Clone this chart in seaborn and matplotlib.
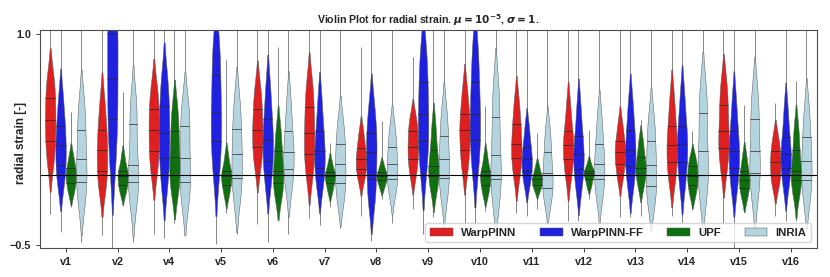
import numpy as np
import pandas as pd
import matplotlib
matplotlib.use("Agg")
import matplotlib.pyplot as plt
import seaborn as sns

cases = ["v1", "v2", "v4", "v5", "v6", "v7", "v8", "v9", "v10", "v11", "v12", "v13", "v14", "v15", "v16"]
methods = ["WarpPINN", "WarpPINN-FF", "UPF", "INRIA"]
colors = ["red", "blue", "green", "lightblue"]

# violin bodies: values at the 0, 12.5, 25, ..., 100 % levels of the thick part
warppinn = [
    [0.06, 0.16, 0.24, 0.32, 0.39, 0.47, 0.55, 0.63, 0.72],
    [-0.12, -0.04, 0.03, 0.10, 0.18, 0.25, 0.32, 0.42, 0.55],
    [0.00, 0.09, 0.17, 0.25, 0.32, 0.40, 0.47, 0.55, 0.65],
    None,
    [0.04, 0.13, 0.20, 0.26, 0.32, 0.40, 0.47, 0.55, 0.65],
    [-0.02, 0.07, 0.15, 0.22, 0.30, 0.39, 0.48, 0.57, 0.68],
    [-0.05, 0.00, 0.04, 0.08, 0.11, 0.15, 0.19, 0.25, 0.32],
    [-0.02, 0.05, 0.11, 0.15, 0.20, 0.25, 0.31, 0.36, 0.42],
    [0.02, 0.11, 0.18, 0.25, 0.32, 0.37, 0.43, 0.52, 0.63],
    [-0.03, 0.05, 0.12, 0.17, 0.22, 0.29, 0.36, 0.44, 0.55],
    [-0.04, 0.04, 0.11, 0.16, 0.21, 0.26, 0.31, 0.40, 0.52],
    [-0.04, 0.02, 0.08, 0.12, 0.16, 0.20, 0.24, 0.30, 0.38],
    [-0.06, 0.02, 0.09, 0.15, 0.21, 0.28, 0.35, 0.45, 0.58],
    [0.02, 0.11, 0.19, 0.25, 0.31, 0.40, 0.50, 0.58, 0.68],
    [-0.10, -0.04, 0.00, 0.04, 0.09, 0.13, 0.17, 0.22, 0.29],
]
warppinn_ff = [
    [-0.08, 0.00, 0.07, 0.14, 0.21, 0.28, 0.35, 0.45, 0.58],
    [0.05, 0.25, 0.40, 0.55, 0.68, 0.85, 1.00, 1.12, 1.25],
    [-0.10, 0.02, 0.12, 0.21, 0.30, 0.40, 0.49, 0.60, 0.72],
    [-0.02, 0.13, 0.24, 0.34, 0.44, 0.57, 0.71, 0.84, 0.98],
    [-0.08, 0.02, 0.10, 0.18, 0.25, 0.32, 0.40, 0.52, 0.66],
    [-0.10, -0.02, 0.05, 0.11, 0.17, 0.24, 0.31, 0.42, 0.56],
    [-0.22, -0.12, -0.03, 0.06, 0.16, 0.23, 0.30, 0.40, 0.52],
    [0.00, 0.13, 0.24, 0.33, 0.43, 0.54, 0.66, 0.78, 0.92],
    [0.02, 0.14, 0.25, 0.34, 0.43, 0.54, 0.66, 0.80, 0.95],
    [-0.08, -0.02, 0.03, 0.07, 0.11, 0.15, 0.20, 0.27, 0.36],
    [-0.12, -0.03, 0.04, 0.10, 0.15, 0.21, 0.28, 0.38, 0.52],
    [-0.10, -0.01, 0.06, 0.12, 0.18, 0.25, 0.32, 0.42, 0.55],
    [-0.10, 0.00, 0.09, 0.15, 0.22, 0.28, 0.35, 0.46, 0.60],
    [-0.12, -0.03, 0.05, 0.11, 0.17, 0.24, 0.31, 0.42, 0.56],
    [-0.10, -0.02, 0.05, 0.10, 0.15, 0.20, 0.27, 0.37, 0.50],
]
upf = [
    [-0.14, -0.10, -0.06, -0.03, 0.00, 0.02, 0.05, 0.09, 0.15],
    [-0.14, -0.10, -0.07, -0.04, -0.01, 0.01, 0.03, 0.07, 0.14],
    [-0.14, -0.06, 0.00, 0.06, 0.13, 0.22, 0.31, 0.40, 0.50],
    [-0.16, -0.11, -0.07, -0.04, -0.01, 0.01, 0.03, 0.08, 0.15],
    [-0.18, -0.11, -0.06, -0.01, 0.03, 0.10, 0.17, 0.25, 0.35],
    [-0.13, -0.09, -0.06, -0.03, -0.01, 0.00, 0.02, 0.05, 0.10],
    [-0.10, -0.07, -0.04, -0.03, -0.01, 0.00, 0.02, 0.04, 0.08],
    [-0.13, -0.06, -0.01, 0.02, 0.06, 0.12, 0.18, 0.27, 0.38],
    [-0.15, -0.11, -0.07, -0.04, -0.01, 0.01, 0.03, 0.08, 0.15],
    [-0.12, -0.09, -0.07, -0.05, -0.03, -0.02, 0.00, 0.03, 0.07],
    [-0.09, -0.06, -0.03, -0.01, 0.01, 0.02, 0.03, 0.05, 0.09],
    [-0.10, -0.05, 0.00, 0.03, 0.05, 0.09, 0.13, 0.19, 0.26],
    [-0.16, -0.11, -0.07, -0.04, -0.01, 0.02, 0.06, 0.09, 0.14],
    [-0.18, -0.13, -0.09, -0.06, -0.04, 0.00, 0.03, 0.08, 0.15],
    [-0.17, -0.09, -0.04, 0.00, 0.03, 0.10, 0.18, 0.26, 0.36],
]
inria = [
    [-0.22, -0.12, -0.05, 0.03, 0.11, 0.21, 0.32, 0.42, 0.54],
    [-0.22, -0.12, -0.05, 0.01, 0.07, 0.20, 0.36, 0.45, 0.56],
    [-0.22, -0.12, -0.05, 0.03, 0.12, 0.24, 0.35, 0.43, 0.52],
    [-0.20, -0.09, -0.02, 0.06, 0.15, 0.24, 0.33, 0.44, 0.56],
    [-0.12, -0.03, 0.04, 0.10, 0.16, 0.23, 0.31, 0.42, 0.56],
    [-0.20, -0.12, -0.06, 0.01, 0.08, 0.15, 0.22, 0.30, 0.40],
    [-0.14, -0.08, -0.03, 0.02, 0.08, 0.14, 0.20, 0.27, 0.36],
    [-0.18, -0.09, -0.02, 0.04, 0.11, 0.19, 0.28, 0.37, 0.48],
    [-0.20, -0.10, -0.03, 0.05, 0.14, 0.27, 0.41, 0.53, 0.66],
    [-0.20, -0.14, -0.09, -0.04, 0.01, 0.08, 0.16, 0.24, 0.34],
    [-0.18, -0.10, -0.03, 0.02, 0.08, 0.15, 0.22, 0.32, 0.44],
    [-0.22, -0.14, -0.08, -0.01, 0.07, 0.15, 0.24, 0.33, 0.44],
    [-0.18, -0.07, 0.00, 0.08, 0.17, 0.30, 0.44, 0.54, 0.64],
    [-0.17, -0.07, 0.01, 0.09, 0.17, 0.28, 0.40, 0.50, 0.62],
    [-0.20, -0.11, -0.04, 0.03, 0.10, 0.18, 0.27, 0.37, 0.50],
]

# extreme values (thin tails) below and above each violin
warppinn_min = [-0.28, -0.43, -0.42, None, -0.35, -0.31, -0.29, -0.24, -0.35, -0.27, -0.33, -0.30, -0.29, -0.34, -0.29]
warppinn_max = [1.3, 1.3, 1.3, None, 1.3, 1.3, 0.91, 0.84, 1.3, 1.3, 1.3, 1.3, 1.3, 1.3, 0.51]
warppinn_ff_min = [-0.41, -0.55, -0.45, -0.49, -0.48, -0.36, -0.47, -0.42, -0.35, -0.29, -0.33, -0.30, -0.34, -0.55, -0.33]
warppinn_ff_max = [1.3, 1.5, 1.3, 1.4, 1.3, 1.3, 1.3, 1.4, 1.4, 1.3, 1.3, 1.3, 1.3, 1.3, 1.3]
upf_min = [-0.23, -0.22, -0.34, -0.27, -0.28, -0.23, -0.17, -0.30, -0.26, -0.24, -0.17, -0.29, -0.25, -0.26, -0.33]
upf_max = [0.45, 0.59, 1.1, 0.82, 0.91, 0.23, 0.38, 1.1, 0.49, 0.30, 0.32, 0.39, 0.31, 0.50, 0.67]
inria_min = [-0.48, -0.48, -0.42, -0.42, -0.42, -0.38, -0.34, -0.35, -0.35, -0.30, -0.33, -0.33, -0.35, -0.33, -0.35]
inria_max = [1.3] * 15

bodies = [warppinn, warppinn_ff, upf, inria]
lows = [warppinn_min, warppinn_ff_min, upf_min, inria_min]
highs = [warppinn_max, warppinn_ff_max, upf_max, inria_max]

rows = []
for method, series in zip(methods, bodies):
    for case, vals in zip(cases, series):
        if vals is None:
            continue
        for v in vals:
            rows.append({"case": case, "method": method, "strain": v})
df = pd.DataFrame(rows)

sns.set_style("ticks")
plt.rcParams["font.family"] = ["Liberation Sans", "DejaVu Sans"]
plt.rcParams["font.weight"] = "bold"
plt.rcParams["axes.labelweight"] = "bold"
plt.rcParams["axes.titleweight"] = "bold"

fig, ax = plt.subplots(figsize=(8.3, 2.77), dpi=100)
fig.subplots_adjust(left=0.048, right=0.984, bottom=0.105, top=0.892)

# thin tails out to the extreme values, behind the violins
width = 0.8
offsets = (np.arange(len(methods)) - (len(methods) - 1) / 2) * width / len(methods)
for k in range(len(methods)):
    for i in range(len(cases)):
        if lows[k][i] is None:
            continue
        ax.vlines(i + offsets[k], lows[k][i], highs[k][i], color="0.45", lw=0.6, zorder=0.5)

sns.violinplot(data=df, x="case", y="strain", hue="method", order=cases,
               hue_order=methods, palette=colors, inner="quart", cut=1.5,
               density_norm="width", bw_adjust=0.85, width=width, linewidth=0.35,
               linecolor="0.35", inner_kws=dict(dashes=(None, None), linewidth=0.5, color="0.15"),
               ax=ax)

ax.axhline(0, color="black", lw=0.8)
ax.set_ylim(-0.52, 1.032)
ax.set_yticks([-0.5, 1.0])
ax.set_xlabel("")
ax.set_ylabel("radial strain [-]", fontsize=8.5)
ax.yaxis.set_label_coords(-0.016, 0.48)
ax.tick_params(labelsize=7.8, length=3, width=0.6)
ax.set_title(r"Violin Plot for radial strain. $\mathbfit{\mu} \mathbf{= 10^{-5}}$, $\mathbfit{\sigma} \mathbf{= 1}$.",
             fontsize=7.6, pad=4)
for s in ax.spines.values():
    s.set_linewidth(0.8)
    s.set_color("0.3")

ax.legend(loc="lower right", ncol=4, fontsize=8.2, frameon=True,
          handlelength=2.0, handletextpad=0.7, columnspacing=2.1, borderpad=0.4)

plt.savefig("out.png", dpi=100)
